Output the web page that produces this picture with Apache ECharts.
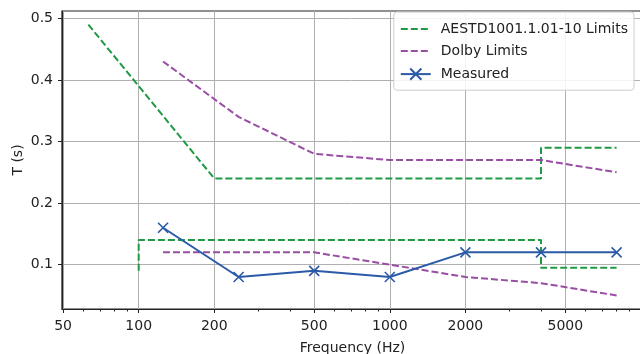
<!DOCTYPE html>
<html><head><meta charset="utf-8">
<script src="https://cdn.jsdelivr.net/npm/echarts@6/dist/echarts.min.js"></script>
<style>html,body{margin:0;padding:0;background:#fff}#c{width:640px;height:354px}</style>
</head><body><div id="c"></div>
<script>
const aesUpperF = [63, 200, 4000, 4000, 8000];
const aesUpperT = [0.49, 0.24, 0.24, 0.29, 0.29];
const aesLowerF = [100, 100, 4000, 4000, 8000];
const aesLowerT = [0.09, 0.14, 0.14, 0.095, 0.095];
const dolbyF = [125, 250, 500, 1000, 2000, 4000, 8000];
const dolbyUpperT = [0.43, 0.34, 0.28, 0.27, 0.27, 0.27, 0.25];
const dolbyLowerT = [0.12, 0.12, 0.12, 0.10, 0.08, 0.07, 0.05];
const measuredF = [125, 250, 500, 1000, 2000, 4000, 8000];
const measuredT = [0.16, 0.08, 0.09, 0.08, 0.12, 0.12, 0.12];
const xMajorTicks = [50, 100, 200, 500, 1000, 2000, 5000];
const xMinorTicks = [60, 70, 80, 90, 300, 400, 600, 700, 800, 900, 3000, 4000, 6000, 7000, 8000, 9000];
const yTicks = [0.1, 0.2, 0.3, 0.4, 0.5];

const GREEN = '#1f9a44', PURPLE = '#984ea3', BLUE = '#2b5aa8';
const FONT = 'DejaVu Sans';
const FS = 14;
const zip = (a, b) => a.map((v, i) => [v, b[i]]);
const XMIN = 49.5, XMAX = 10190, YMIN = 0.028, YMAX = 0.512;

const chart = echarts.init(document.getElementById('c'), null, {renderer: 'canvas'});
const lineSeries = (name, data, color, dashed) => ({
  name, type: 'line', data, xAxisIndex: 0, yAxisIndex: 0,
  symbol: 'none', showSymbol: false, animation: false,
  lineStyle: {color, width: 2, type: dashed ? [7, 3] : 'solid'},
  itemStyle: {color}
});
chart.setOption({
  animation: false,
  textStyle: {fontFamily: FONT},
  grid: {left: 62, top: 11, right: -3, bottom: 45, show: true, borderColor: '#222', borderWidth: 1.2,
    containLabel: false, outerBoundsMode: 'none'},
  legend: {
    right: 6, top: 12, orient: 'vertical', itemWidth: 30, itemHeight: 14, itemGap: 8,
    padding: [10, 6, 8, 6],
    backgroundColor: 'rgba(255,255,255,0.85)', borderColor: '#cccccc', borderWidth: 1, borderRadius: 3,
    textStyle: {fontFamily: FONT, fontSize: FS, color: '#222', padding: [0, 0, 0, 5]},
    data: [
      {name: 'AESTD1001.1.01-10 Limits', itemStyle: {opacity: 0}},
      {name: 'Dolby Limits', itemStyle: {opacity: 0}},
      {name: 'Measured'}
    ]
  },
  xAxis: [{
    type: 'log', min: XMIN, max: XMAX, position: 'bottom',
    name: 'Frequency (Hz)', nameLocation: 'middle', nameGap: 32,
    nameTextStyle: {fontFamily: FONT, fontSize: FS, color: '#222'},
    axisLine: {show: true, lineStyle: {color: '#222', width: 1.2}},
    axisTick: {show: true, customValues: xMajorTicks, length: 4, lineStyle: {color: '#222'}},
    axisLabel: {customValues: xMajorTicks, fontFamily: FONT, fontSize: FS, color: '#222', margin: 10,
      formatter: v => String(Math.round(v))},
    splitLine: {show: true, lineStyle: {color: '#b0b0b0', width: 1}},
    minorTick: {show: false}
  }, {
    type: 'log', min: XMIN, max: XMAX, position: 'bottom', offset: 0,
    axisLine: {show: false},
    axisTick: {show: true, customValues: xMinorTicks, length: 2.5, lineStyle: {color: '#222'}},
    axisLabel: {show: false, customValues: xMinorTicks},
    splitLine: {show: false}
  }],
  yAxis: [{
    type: 'value', min: YMIN, max: YMAX,
    name: 'T (s)', nameLocation: 'middle', nameGap: 37, nameRotate: 90, nameMoveOverlap: false,
    nameTextStyle: {fontFamily: FONT, fontSize: FS, color: '#222'},
    axisLine: {show: true, lineStyle: {color: '#222', width: 1.2}},
    axisTick: {show: true, customValues: yTicks, length: 4, lineStyle: {color: '#222'}},
    axisLabel: {customValues: yTicks, fontFamily: FONT, fontSize: FS, color: '#222', margin: 9,
      formatter: v => v.toFixed(1)},
    splitLine: {show: true, lineStyle: {color: '#b0b0b0', width: 1}}
  }],
  series: [
    lineSeries('AESTD1001.1.01-10 Limits', zip(aesUpperF, aesUpperT), GREEN, true),
    lineSeries('AESTD1001.1.01-10 Limits', zip(aesLowerF, aesLowerT), GREEN, true),
    lineSeries('Dolby Limits', zip(dolbyF, dolbyUpperT), PURPLE, true),
    lineSeries('Dolby Limits', zip(dolbyF, dolbyLowerT), PURPLE, true),
    {
      name: 'Measured', type: 'line', data: zip(measuredF, measuredT),
      symbol: 'path://M0,0L10,10M10,0L0,10', symbolSize: 10, showSymbol: true,
      lineStyle: {color: BLUE, width: 2},
      itemStyle: {color: 'none', borderColor: BLUE, borderWidth: 1.6}
    }
  ]
});
</script></body></html>
